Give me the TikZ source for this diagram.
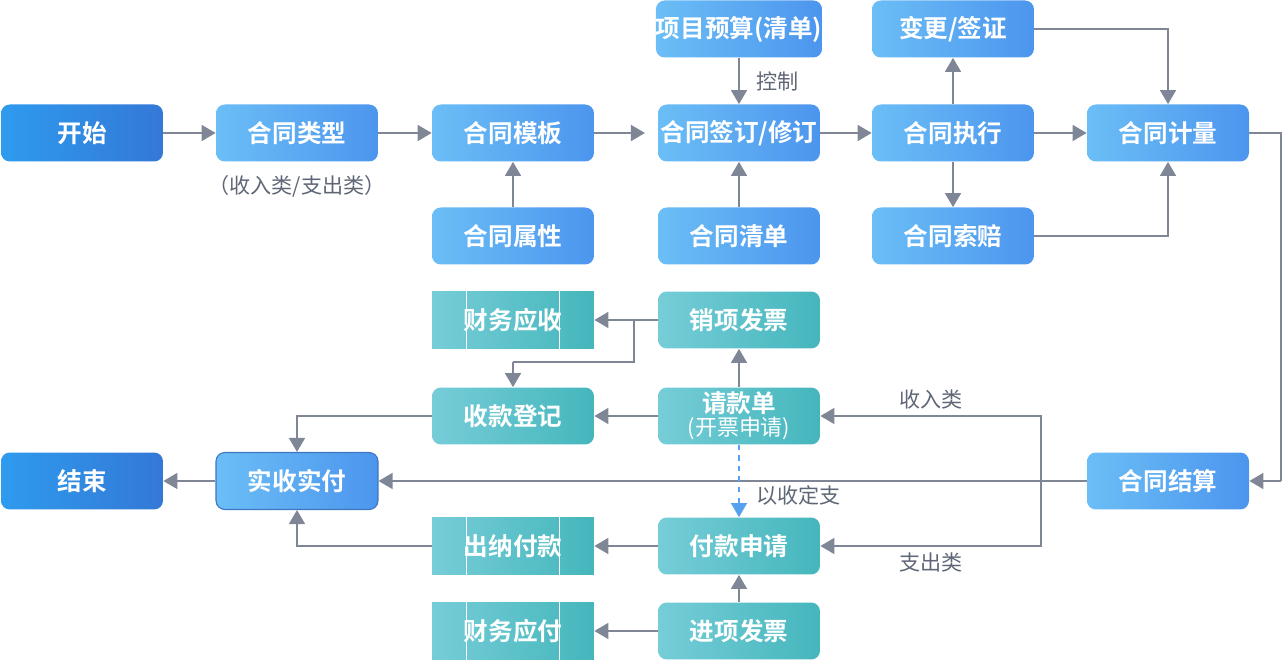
\documentclass[tikz,border=0pt]{standalone}
\usepackage{fontspec}
\setmainfont{Noto Sans CJK SC}
\newfontfamily\cjkb{Noto Sans CJK SC Bold}
\usetikzlibrary{arrows.meta}
\definecolor{ar}{HTML}{7F8797}
\definecolor{lb}{HTML}{6BBEF6}\definecolor{rb}{HTML}{4C95EE}
\definecolor{ld}{HTML}{2E9BEE}\definecolor{rd}{HTML}{3478D6}
\definecolor{lt}{HTML}{76CDD8}\definecolor{rt}{HTML}{45B6BC}
\definecolor{tx}{HTML}{5F6676}
\begin{document}
\begin{tikzpicture}[x=0.02cm,y=-0.02cm,
 box/.style={minimum width=3.24cm,minimum height=1.14cm,rounded corners=5pt,text=white,font=\cjkb\fontsize{14}{16}\selectfont,align=center,inner sep=0pt},
 bb/.style={box,left color=lb,right color=rb},
 db/.style={box,left color=ld,right color=rd},
 tb/.style={box,left color=lt,right color=rt},
 pb/.style={box,rounded corners=0pt,left color=lt,right color=rt},
 a/.style={draw=ar,line width=1.3pt,-{Triangle[length=8pt,width=9pt]}},
 l/.style={draw=ar,line width=1.3pt},
 lab/.style={text=tx,font=\fontsize{12}{14}\selectfont}]
\useasboundingbox (0,0) rectangle (1284,661);
\node[db] (start) at (82,133) {开始};
\node[bb] (type) at (297,133) {合同类型};
\node[bb] (tmpl) at (513,133) {合同模板};
\node[bb] (sign) at (739,133) {合同签订/修订};
\node[bb] (exec) at (953,133) {合同执行};
\node[bb] (meas) at (1168,133) {合同计量};
\node[bb] (budg) at (739,29) {项目预算(清单)};
\node[bb] (chg) at (953,29) {变更/签证};
\node[bb] (attr) at (513,236) {合同属性};
\node[bb] (list) at (739,236) {合同清单};
\node[bb] (clm) at (953,236) {合同索赔};
\node[pb] (ar1) at (513,320) {财务应收};
\node[tb] (sinv) at (739,320) {销项发票};
\node[tb] (reg) at (513,416) {收款登记};
\node[tb] (req) at (739,416) {请款单\\[-3pt]{\fontspec{Noto Sans CJK SC}\fontsize{12.5}{14}\selectfont (开票申请)}};
\node[db] (end) at (82,481) {结束};
\node[bb,draw=rb!80!black,line width=0.6pt] (real) at (297,481) {实收实付};
\node[bb] (sett) at (1168,481) {合同结算};
\node[pb] (cash) at (513,546) {出纳付款};
\node[tb] (papp) at (739,546) {付款申请};
\node[pb] (ap) at (513,631) {财务应付};
\node[tb] (pinv) at (739,631) {进项发票};
\foreach \n in {ar1,cash,ap}{
 \draw[white,line width=0.7pt] ([xshift=20]\n.north west) -- ([xshift=20]\n.south west);
 \draw[white,line width=0.7pt] ([xshift=-20]\n.north east) -- ([xshift=-20]\n.south east);}
\node[lab] (tl) at (297,186) {（收入类/支出类）};
\path[a] (start) -- (type);
\path[a] (type) -- (tmpl);
\coordinate (s1) at (645,133);
\path[a] (tmpl) -- (s1);
\path[a] (sign) -- (exec);
\path[a] (exec) -- (meas);
\path[a] (budg) -- node[lab,right=6pt]{控制} (sign);
\path[a] (exec) -- (chg);
\path[a] (exec) -- (clm);
\path[a] (chg.east) -| (meas.north);
\path[a] (clm.east) -| (meas.south);
\path[a] (attr) -- (tmpl);
\path[a] (list) -- (sign);
\coordinate (r1) at (1281,133);
\coordinate (r2) at (1281,481);
\path[l] (meas.east) -- (r1) -- (r2);
\path[a] (r2) -- (sett.east);
\path[a] (sett) -- (real);
\path[a] (real) -- (end);
\coordinate (v1) at (1041,481);
\path[a] (v1) |- node[lab,pos=0.75,above]{收入类} (req.east);
\path[a] (v1) |- node[lab,pos=0.75,below]{支出类} (papp.east);
\path[a] (sinv) -- (ar1);
\coordinate (b1) at (634,320);
\coordinate (b2) at (634,362);
\coordinate (b3) at (513,362);
\path[l] (b1) -- (b2) -- (b3);
\path[a] (b3) -- (reg.north);
\path[a] (req) -- (sinv);
\path[a] (req) -- (reg);
\path[draw=rb!70!lb,line width=1.1pt,dashed,-{Triangle[length=8pt,width=9pt]}] (req) -- node[lab,right=6pt,pos=0.7]{以收定支} (papp);
\path[a] (reg.west) -| (real.north);
\path[a] (cash.west) -| (real.south);
\path[a] (papp) -- (cash);
\path[a] (pinv) -- (papp);
\path[a] (pinv) -- (ap);
\end{tikzpicture}
\end{document}
